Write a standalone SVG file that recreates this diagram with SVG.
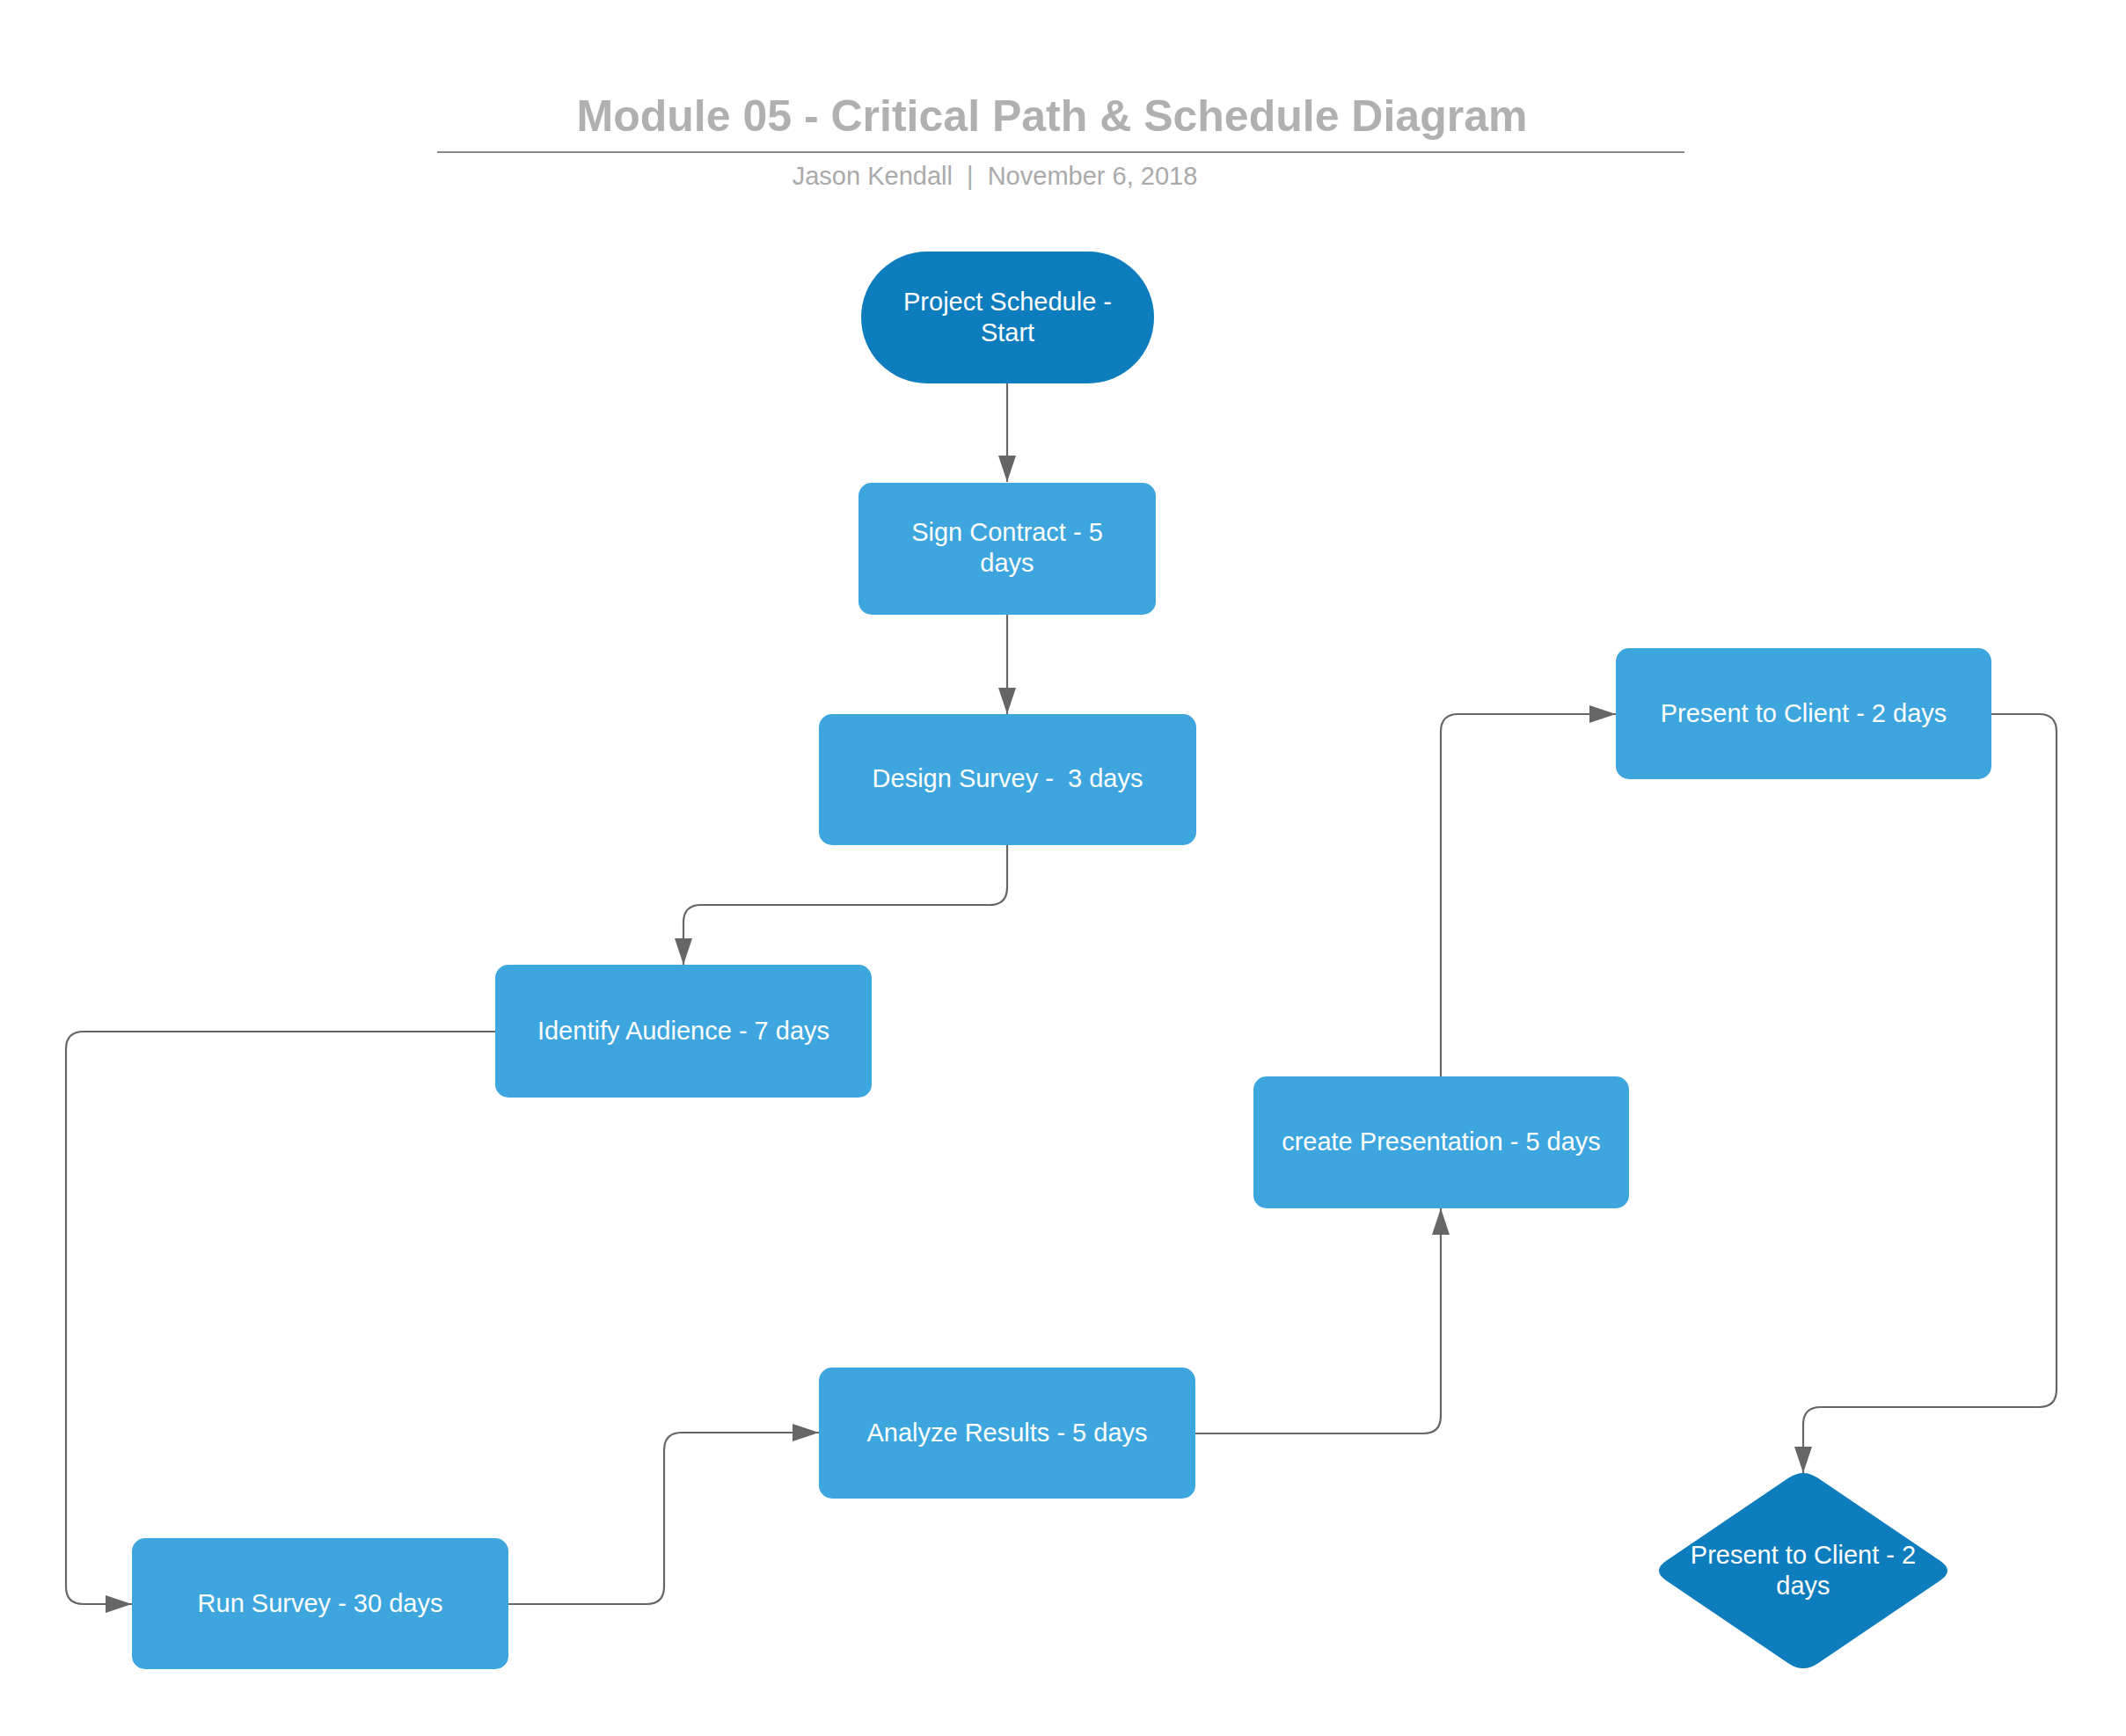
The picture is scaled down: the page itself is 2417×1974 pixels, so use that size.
<svg xmlns="http://www.w3.org/2000/svg" width="2417" height="1974" viewBox="0 0 2417 1974">
<style>
.box{fill:#3DA6DE}
.dark{fill:#0E7DBD}
.lbl{font-family:"Liberation Sans",Arial,sans-serif;font-size:29px;fill:#ffffff;text-anchor:middle}
.conn{fill:none;stroke:#666666;stroke-width:2.2}
.title{font-family:"Liberation Sans",Arial,sans-serif;font-size:50px;font-weight:bold;fill:#b0b0b0;text-anchor:middle}
.sub{font-family:"Liberation Sans",Arial,sans-serif;font-size:29px;fill:#aaaaaa;text-anchor:middle}
</style>
<defs>
<marker id="arr" markerWidth="30" markerHeight="20" refX="30" refY="10" orient="auto" markerUnits="userSpaceOnUse">
<path d="M0,0 L30,10 L0,20 Z" fill="#666666"/>
</marker>
</defs>
<rect width="2417" height="1974" fill="#ffffff"/>
<g id="header">
<text class="title" x="1196" y="149">Module 05 - Critical Path &amp; Schedule Diagram</text>
<line x1="497" y1="173" x2="1915" y2="173" stroke="#888888" stroke-width="2"/>
<text class="sub" x="1131" y="210" xml:space="preserve">Jason Kendall  |  November 6, 2018</text>
</g>
<g id="connectors">
<path class="conn" marker-end="url(#arr)" d="M1145,436 V548"/>
<path class="conn" marker-end="url(#arr)" d="M1145,699 V812"/>
<path class="conn" marker-end="url(#arr)" d="M1145,961 V1009 Q1145,1029 1125,1029 H797 Q777,1029 777,1049 V1097"/>
<path class="conn" marker-end="url(#arr)" d="M563,1173 H95 Q75,1173 75,1193 V1804 Q75,1824 95,1824 H150"/>
<path class="conn" marker-end="url(#arr)" d="M578,1824 H735 Q755,1824 755,1804 V1649 Q755,1629 775,1629 H931"/>
<path class="conn" marker-end="url(#arr)" d="M1359,1630 H1618 Q1638,1630 1638,1610 V1374"/>
<path class="conn" marker-end="url(#arr)" d="M1638,1224 V832 Q1638,812 1658,812 H1837"/>
<path class="conn" marker-end="url(#arr)" d="M2264,812 H2318 Q2338,812 2338,832 V1580 Q2338,1600 2318,1600 H2070 Q2050,1600 2050,1620 V1675"/>
</g>
<g id="start">
<rect class="dark" x="979" y="286" width="333" height="150" rx="75" ry="75"/>
<text class="lbl" x="1145.5" y="353">Project Schedule -</text>
<text class="lbl" x="1145.5" y="388">Start</text>
</g>
<g id="sign-contract">
<rect class="box" x="976" y="549" width="338" height="150" rx="15"/>
<text class="lbl" x="1145" y="615">Sign Contract - 5</text>
<text class="lbl" x="1145" y="650">days</text>
</g>
<g id="design-survey">
<rect class="box" x="931" y="812" width="429" height="149" rx="15"/>
<text class="lbl" x="1145.5" y="895" xml:space="preserve">Design Survey -  3 days</text>
</g>
<g id="identify-audience">
<rect class="box" x="563" y="1097" width="428" height="151" rx="15"/>
<text class="lbl" x="777" y="1182">Identify Audience - 7 days</text>
</g>
<g id="run-survey">
<rect class="box" x="150" y="1749" width="428" height="149" rx="15"/>
<text class="lbl" x="364" y="1833">Run Survey - 30 days</text>
</g>
<g id="analyze-results">
<rect class="box" x="931" y="1555" width="428" height="149" rx="15"/>
<text class="lbl" x="1145" y="1639">Analyze Results - 5 days</text>
</g>
<g id="create-presentation">
<rect class="box" x="1425" y="1224" width="427" height="150" rx="15"/>
<text class="lbl" x="1638.5" y="1308">create Presentation - 5 days</text>
</g>
<g id="present-client">
<rect class="box" x="1837" y="737" width="427" height="149" rx="15"/>
<text class="lbl" x="2050.5" y="821">Present to Client - 2 days</text>
</g>
<g id="present-client-end">
<path class="dark" d="M2066.6,1680.6 L2205.7,1774.8 Q2222.3,1786 2205.7,1797.2 L2066.6,1891.4 Q2050,1902.6 2033.4,1891.4 L1894.3,1797.2 Q1877.7,1786 1894.3,1774.8 L2033.4,1680.6 Q2050,1669.4 2066.6,1680.6 Z"/>
<text class="lbl" x="2050" y="1778">Present to Client - 2</text>
<text class="lbl" x="2050" y="1813">days</text>
</g>
</svg>
